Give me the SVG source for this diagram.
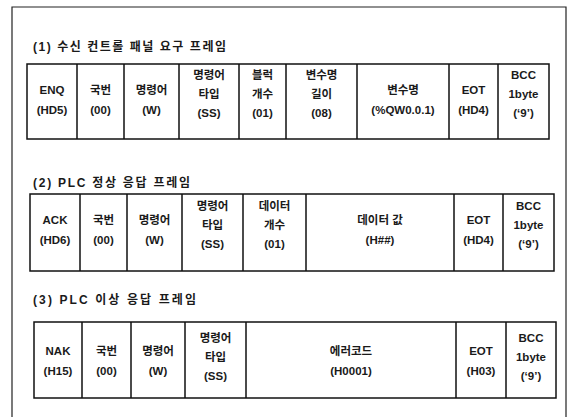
<svg xmlns="http://www.w3.org/2000/svg" width="573" height="417" viewBox="0 0 573 417">
<style>
.frame{fill:none;stroke:#222;stroke-width:1.2}
.cell{fill:none;stroke:#111;stroke-width:1.5}
.t{font-family:"Liberation Sans","Noto Sans CJK KR",sans-serif;font-size:11.5px;font-weight:bold;fill:#1a1a1a;text-anchor:middle}
.h{font-family:"Liberation Sans","Noto Sans CJK KR",sans-serif;font-size:12px;font-weight:bold;fill:#1a1a1a}
</style>
<rect width="573" height="417" fill="#fff"/>
<path class="frame" d="M12,420 V7 H566 V420"/>

<g id="title1"><text class="h" x="33" y="51" textLength="193" lengthAdjust="spacing">(1) 수신 컨트롤 패널 요구 프레임</text></g>
<g id="frame1">
<rect class="cell" x="27" y="64" width="522" height="75"/>
<path class="cell" d="M77,64V139M124,64V139M179,64V139M239,64V139M286,64V139M357,64V139M449,64V139M498,64V139"/>
<text class="t"><tspan x="52" y="94">ENQ</tspan><tspan x="52" y="114">(HD5)</tspan></text>
<text class="t"><tspan x="100.5" y="94">국번</tspan><tspan x="100.5" y="114">(00)</tspan></text>
<text class="t"><tspan x="151.5" y="94">명령어</tspan><tspan x="151.5" y="114">(W)</tspan></text>
<text class="t"><tspan x="209" y="79">명령어</tspan><tspan x="209" y="98">타입</tspan><tspan x="209" y="117">(SS)</tspan></text>
<text class="t"><tspan x="262.5" y="79">블럭</tspan><tspan x="262.5" y="98">개수</tspan><tspan x="262.5" y="117">(01)</tspan></text>
<text class="t"><tspan x="321.5" y="79">변수명</tspan><tspan x="321.5" y="98">길이</tspan><tspan x="321.5" y="117">(08)</tspan></text>
<text class="t"><tspan x="403" y="94">변수명</tspan><tspan x="403" y="114">(%QW0.0.1)</tspan></text>
<text class="t"><tspan x="473.5" y="94">EOT</tspan><tspan x="473.5" y="114">(HD4)</tspan></text>
<text class="t"><tspan x="523.5" y="79">BCC</tspan><tspan x="523.5" y="98">1byte</tspan><tspan x="523.5" y="117">(‘9’)</tspan></text>
</g>

<g id="title2"><text class="h" x="33" y="187" textLength="157" lengthAdjust="spacing">(2) PLC 정상 응답 프레임</text></g>
<g id="frame2">
<rect class="cell" x="30" y="194" width="524" height="77"/>
<path class="cell" d="M80,194V271M127,194V271M182,194V271M243,194V271M306,194V271M454,194V271M503,194V271"/>
<text class="t"><tspan x="55" y="224">ACK</tspan><tspan x="55" y="244">(HD6)</tspan></text>
<text class="t"><tspan x="103.5" y="224">국번</tspan><tspan x="103.5" y="244">(00)</tspan></text>
<text class="t"><tspan x="154.5" y="224">명령어</tspan><tspan x="154.5" y="244">(W)</tspan></text>
<text class="t"><tspan x="212.5" y="210">명령어</tspan><tspan x="212.5" y="229">타입</tspan><tspan x="212.5" y="248">(SS)</tspan></text>
<text class="t"><tspan x="274.5" y="210">데이터</tspan><tspan x="274.5" y="229">개수</tspan><tspan x="274.5" y="248">(01)</tspan></text>
<text class="t"><tspan x="380" y="224">데이터 값</tspan><tspan x="380" y="244">(H##)</tspan></text>
<text class="t"><tspan x="478.5" y="224">EOT</tspan><tspan x="478.5" y="244">(HD4)</tspan></text>
<text class="t"><tspan x="528.5" y="210">BCC</tspan><tspan x="528.5" y="229">1byte</tspan><tspan x="528.5" y="248">(‘9’)</tspan></text>
</g>

<g id="title3"><text class="h" x="33" y="304" textLength="163" lengthAdjust="spacing">(3) PLC 이상 응답 프레임</text></g>
<g id="frame3">
<rect class="cell" x="34" y="322" width="522" height="76"/>
<path class="cell" d="M82,322V398M131,322V398M185,322V398M246,322V398M456,322V398M506,322V398"/>
<text class="t"><tspan x="58" y="355">NAK</tspan><tspan x="58" y="375">(H15)</tspan></text>
<text class="t"><tspan x="106.5" y="355">국번</tspan><tspan x="106.5" y="375">(00)</tspan></text>
<text class="t"><tspan x="158" y="355">명령어</tspan><tspan x="158" y="375">(W)</tspan></text>
<text class="t"><tspan x="215.5" y="342">명령어</tspan><tspan x="215.5" y="361">타입</tspan><tspan x="215.5" y="380">(SS)</tspan></text>
<text class="t"><tspan x="351" y="355">에러코드</tspan><tspan x="351" y="375">(H0001)</tspan></text>
<text class="t"><tspan x="481" y="355">EOT</tspan><tspan x="481" y="375">(H03)</tspan></text>
<text class="t"><tspan x="531" y="342">BCC</tspan><tspan x="531" y="361">1byte</tspan><tspan x="531" y="380">(‘9’)</tspan></text>
</g>
</svg>
